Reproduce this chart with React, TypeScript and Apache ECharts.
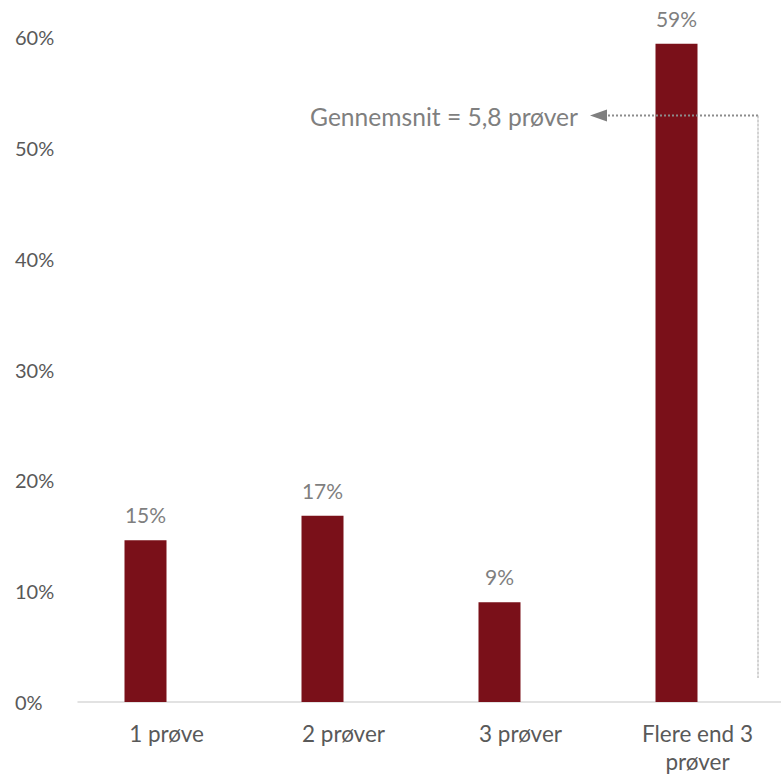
import React, { useEffect, useRef } from "react";
import * as echarts from "echarts";

const categories = ["1 prøve", "2 prøver", "3 prøver", "Flere end 3\nprøver"];
const shares = [14.6, 16.8, 9.0, 59.4];
const placeholder: (number | null)[] = [null, null, null, null];
const yTicks = [0, 10, 20, 30, 40, 50, 60];
const annotation = "Gennemsnit = 5,8 prøver";

export default function App() {
  const ref = useRef<HTMLDivElement>(null);
  useEffect(() => {
    const chart = echarts.init(ref.current!, null, { renderer: "svg" });
    const font = "Lato, 'Open Sans', sans-serif";
    chart.setOption({
      animation: false,
      grid: {
        left: 78,
        top: 37,
        width: 708,
        height: 665,
        containLabel: false,
        outerBoundsMode: "none",
      },
      xAxis: {
        type: "category",
        data: categories,
        axisLine: { show: true, lineStyle: { color: "#d9d9d9", width: 1.5 } },
        axisTick: { show: false },
        axisLabel: {
          color: "#595959",
          fontFamily: font,
          fontSize: 22.5,
          lineHeight: 28,
          margin: 17,
        },
      },
      yAxis: {
        type: "value",
        min: 0,
        max: 60,
        interval: 10,
        splitLine: { show: false },
        axisLine: { show: false },
        axisTick: { show: false },
        axisLabel: {
          color: "#595959",
          fontFamily: font,
          fontSize: 20,
          align: "left",
          margin: 63,
          formatter: (v: number) => (yTicks.includes(v) ? v + "%" : ""),
        },
      },
      series: [
        {
          type: "bar",
          data: shares,
          barWidth: 42,
          barGap: "0%",
          itemStyle: { color: "#7a1019" },
          label: {
            show: true,
            position: "top",
            distance: 15,
            color: "#7f7f7f",
            fontFamily: font,
            fontSize: 21,
            formatter: (p: any) => Math.round(p.value) + "%",
          },
        },
        {
          type: "bar",
          data: placeholder,
          barWidth: 42,
          barGap: "0%",
          itemStyle: { color: "transparent" },
        },
      ],
      graphic: [
        {
          type: "line",
          shape: { x1: 604, y1: 115.5, x2: 758, y2: 115.5 },
          style: { stroke: "#8c8c8c", lineWidth: 2, lineDash: [2, 2] },
          z: 100,
        },
        {
          type: "line",
          shape: { x1: 758, y1: 115.5, x2: 758, y2: 678 },
          style: { stroke: "#a6a6a6", lineWidth: 1, lineDash: [3, 1] },
          z: 100,
        },
        {
          type: "polygon",
          shape: { points: [[590, 115.5], [607, 109.5], [607, 121.5]] },
          style: { fill: "#7f7f7f" },
          z: 100,
        },
        {
          type: "text",
          x: 578,
          y: 116,
          style: {
            text: annotation,
            fill: "#7f7f7f",
            fontFamily: font,
            fontSize: 24.6,
            align: "right",
            verticalAlign: "middle",
          },
          z: 100,
        },
      ],
    });
    return () => chart.dispose();
  }, []);
  return (
    <div
      ref={ref}
      style={{ position: "fixed", left: 0, top: 0, width: 781, height: 775, background: "#fff" }}
    />
  );
}
